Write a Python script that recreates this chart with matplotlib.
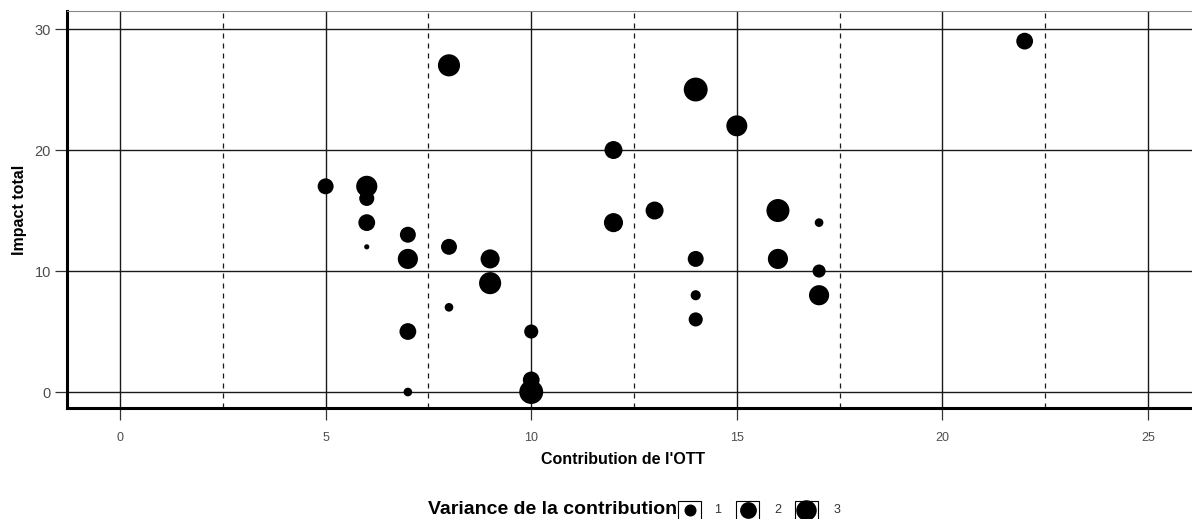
import matplotlib
matplotlib.use("Agg")
import matplotlib.pyplot as plt
import numpy as np
from matplotlib.patches import Rectangle
from matplotlib.lines import Line2D

plt.rcParams['font.family'] = ['Liberation Sans', 'DejaVu Sans']

# Data
contribution = [5, 6, 6, 6, 6, 7, 7, 7, 7, 8, 8, 8, 9, 9, 10, 10, 10,
                12, 12, 13, 14, 14, 14, 14, 15, 16, 16, 17, 17, 17, 22]
impact = [17, 17, 16, 14, 12, 13, 11, 5, 0, 27, 12, 7, 11, 9, 5, 1, 0,
          20, 14, 15, 25, 11, 8, 6, 22, 15, 11, 14, 10, 8, 29]
variance = [1.8, 3.2, 1.6, 2.0, 0.15, 1.8, 2.9, 2.0, 0.5, 3.5, 1.8, 0.5, 2.6, 3.5, 1.4, 2.0, 4.1,
            2.3, 2.6, 2.3, 4.1, 1.8, 0.7, 1.4, 3.15, 3.8, 2.9, 0.5, 1.2, 2.9, 2.0]
legend_breaks = [1, 2, 3]
x_ticks = [0, 5, 10, 15, 20, 25]
y_ticks = [0, 10, 20, 30]

def size_pt2(v):
    v = np.asarray(v, dtype=float)
    d_px = np.sqrt(6 + 138 * v)
    return (0.72 * d_px) ** 2

W, H = 1192, 519
fig = plt.figure(figsize=(W / 100, H / 100), dpi=100)
L, R, T, B = 67, 1199, 11, 408
ax = fig.add_axes([L / W, 1 - B / H, (R - L) / W, (B - T) / H])

ax.set_xlim(-1.29, 26.24)
ax.set_ylim(-1.32, 31.49)
ax.set_xticks(x_ticks)
ax.set_yticks(y_ticks)
ax.set_xticks([2.5, 7.5, 12.5, 17.5, 22.5], minor=True)

ax.grid(True, which='major', color='#1a1a1a', linewidth=1.0, linestyle='-')
ax.grid(True, which='minor', axis='x', color='#1a1a1a', linewidth=0.9, linestyle=(0, (4, 4)))
ax.set_axisbelow(True)

ax.scatter(contribution, impact, s=size_pt2(variance), c='black', edgecolors='none', zorder=3)

for s in ['left', 'bottom']:
    ax.spines[s].set_linewidth(2.2)
    ax.spines[s].set_color('black')
ax.spines['top'].set_color('#888888')
ax.spines['top'].set_linewidth(0.8)
ax.spines['right'].set_color('#888888')
ax.spines['right'].set_linewidth(0.8)

ax.tick_params(axis='both', which='major', length=8.5, width=0.9, color='#333333', labelcolor='#4d4d4d')
ax.tick_params(axis='x', which='major', labelsize=9, pad=9)
ax.tick_params(axis='y', which='major', labelsize=10.5, pad=3)
ax.tick_params(axis='x', which='minor', length=0)

fig.text(623 / W, 1 - 459 / H, "Contribution de l'OTT", ha='center', va='center',
         fontsize=11.5, fontweight='bold')
fig.text(20 / W, 1 - 210 / H, "Impact total", ha='center', va='center', rotation=90,
         fontsize=11.5, fontweight='bold')

# Legend
fig.text(553 / W, 1 - 509 / H, "Variance de la contribution", ha='center', va='center',
         fontsize=14, fontweight='bold')
box_x = [678, 736, 795]
lab_x = [714, 774, 834]
for bx, lx, v in zip(box_x, lab_x, legend_breaks):
    fig.patches.append(Rectangle((bx / W, 1 - 524 / H), 23 / W, 23 / H, transform=fig.transFigure,
                                 facecolor='white', edgecolor='black', linewidth=0.8))
    fig.lines.append(Line2D([(bx + 11.5) / W], [1 - 510 / H], transform=fig.transFigure,
                            marker='o', linestyle='none', color='black', markeredgewidth=0,
                            markersize=float(np.sqrt(size_pt2(v)))))
    fig.text(lx / W, 1 - 510 / H, str(v), ha='left', va='center', fontsize=9, color='#333333')

fig.savefig('out.png', dpi=100)
